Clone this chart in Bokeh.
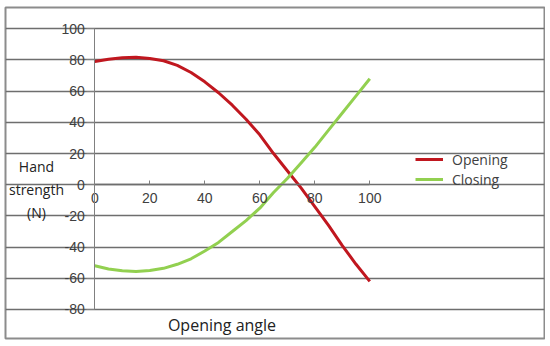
from bokeh.plotting import figure
from bokeh.models import LinearAxis, Grid, FixedTicker, Legend, LegendItem, Label, CustomJSTickFormatter
from bokeh.embed import file_html
from bokeh.resources import INLINE

# ---- data ----
angle = [0, 5, 10, 15, 20, 25, 30, 35, 40, 45, 50, 55, 60, 65, 70, 75, 80, 85, 90, 95, 100]
opening = [79, 80.5, 81.5, 81.8, 81, 79.5, 76.5, 72, 66, 59, 51, 42, 32, 20, 9, -2, -14, -26, -39, -51, -62]
closing = [-52, -54, -55.2, -55.6, -55, -53.6, -51, -47.5, -42.5, -37, -30, -23, -15, -5, 4, 14, 24, 35, 46, 57, 68]
x_ticks = [0, 20, 40, 60, 80, 100]
y_ticks = [-80, -60, -40, -20, 0, 20, 40, 60, 80, 100]
series_names = ["Opening", "Closing"]
x_title = "Opening angle"
y_title = "Hand\nstrength\n(N)"

RED = "#c0171f"
GREEN = "#92d050"
TXT = "#404040"

p = figure(width=545, height=340, x_range=(-32.47, 163.53), y_range=(-98.6, 113.66),
           min_border_left=5, min_border_top=7, min_border_right=1, min_border_bottom=2,
           output_backend="svg", toolbar_location=None,
           x_axis_type=None, y_axis_type=None)
p.outline_line_color = "#8c8c8c"
p.outline_line_width = 2
p.background_fill_color = "white"
p.border_fill_color = "white"

# horizontal grid lines spanning x 0..100
grid = Grid(dimension=1, ticker=FixedTicker(ticks=y_ticks), bounds=(0, 100),
            grid_line_color="#6e6e6e", grid_line_width=1.5)
p.add_layout(grid)

# y axis at x = 0
yax = LinearAxis(fixed_location=0, bounds=(-80, 100), ticker=FixedTicker(ticks=y_ticks))
yax.formatter = CustomJSTickFormatter(code="return (tick < 0 ? '-' : '') + Math.abs(tick).toFixed(0);")
yax.axis_line_color = "#808080"
yax.major_tick_line_color = "#808080"
yax.major_tick_out = 8
yax.major_tick_in = 0
yax.minor_tick_line_color = None
yax.major_label_standoff = 2
yax.major_label_text_font = "Liberation Sans"
yax.major_label_text_font_size = "14px"
yax.major_label_text_color = TXT
p.add_layout(yax, "left")

# x axis at y = 0
xax = LinearAxis(fixed_location=0, bounds=(0, 100), ticker=FixedTicker(ticks=x_ticks))
xax.axis_line_color = "#6e6e6e"
xax.axis_line_width = 1.5
xax.major_tick_line_color = "#808080"
xax.major_tick_out = 0
xax.major_tick_in = 4
xax.minor_tick_line_color = None
xax.major_label_standoff = 8
xax.major_label_text_font = "Liberation Sans"
xax.major_label_text_font_size = "14px"
xax.major_label_text_color = TXT
p.add_layout(xax, "below")

r1 = p.line(angle, opening, line_color=RED, line_width=3)
r2 = p.line(angle, closing, line_color=GREEN, line_width=3)

legend = Legend(items=[LegendItem(label=series_names[0], renderers=[r1]),
                       LegendItem(label=series_names[1], renderers=[r2])],
                location=(410, 149), padding=0, margin=0, spacing=0,
                glyph_width=28, glyph_height=20, label_height=20, label_standoff=9,
                border_line_color=None, background_fill_alpha=0,
                label_text_font="Open Sans", label_text_font_size="14px",
                label_text_color=TXT)
p.add_layout(legend)

p.add_layout(Label(x=46.25, y=-90.2, text=x_title, text_align="center", text_baseline="middle",
                   text_font="Open Sans", text_font_size="16px", text_color="#222222"))
p.add_layout(Label(x=-21.2, y=-3.0, text=y_title, text_align="center", text_baseline="middle",
                   text_font="Open Sans", text_font_size="14px", text_color="#222222",
                   text_line_height=1.2))

open("out.html", "w").write(file_html(p, INLINE))
